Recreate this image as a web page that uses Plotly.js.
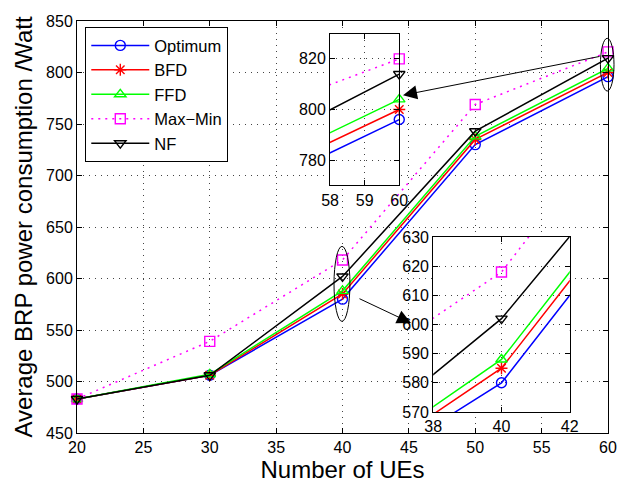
<!DOCTYPE html>
<html>
<head>
<meta charset="utf-8">
<script src="https://cdn.plot.ly/plotly-3.0.1.min.js"></script>
<style>html,body{margin:0;padding:0;background:#fff;}#chart{width:624px;height:483px;}</style>
</head>
<body>
<div id="chart"></div>
<script>
// ---- data ----
const numUEs = [20, 30, 40, 50, 60];
const optimum = [483, 506, 580, 730, 796];
const bfd     = [483, 506, 585, 735, 800];
const ffd     = [483, 507, 588, 738, 804];
const maxMin  = [483, 539, 618, 769, 820];
const nf      = [483, 506, 602, 743, 814];

const seriesNames = ['Optimum', 'BFD', 'FFD', 'Max\u2212Min', 'NF'];
const seriesData = [optimum, bfd, ffd, maxMin, nf];
const seriesColors = ['#0000ff', '#ff0000', '#00ff00', '#ff00ff', '#000000'];
const seriesSymbols = ['circle-open', 'asterisk-open', 'triangle-up-open', 'square-open', 'triangle-down-open'];
const seriesDash = ['solid', 'solid', 'solid', '2px,5px', 'solid'];

const mainXTicks = [20, 25, 30, 35, 40, 45, 50, 55, 60];
const mainYTicks = [450, 500, 550, 600, 650, 700, 750, 800, 850];
const inset1XRange = [58, 60], inset1YRange = [770, 830];
const inset2XRange = [38, 42], inset2YRange = [570, 630];
const inset1XTicks = [58, 59, 60];
const inset1YTicks = [780, 800, 820];
const inset2XTicks = [38, 40, 42];
const inset2YTicks = [570, 580, 590, 600, 610, 620, 630];

function markerStyle(i) {
  return {symbol: seriesSymbols[i], size: 10, color: seriesColors[i],
          line: {color: seriesColors[i], width: 1.4}};
}
function lineStyle(i) {
  return {color: seriesColors[i], width: 1.5, dash: seriesDash[i]};
}

const traces = [];
// main axes
seriesNames.forEach(function (name, i) {
  traces.push({x: numUEs, y: seriesData[i], name: name, xaxis: 'x', yaxis: 'y',
    type: 'scatter', mode: 'lines+markers', cliponaxis: false,
    line: lineStyle(i), marker: markerStyle(i)});
});
// insets: clipped lines + unclipped markers for points inside the window
[['x2', 'y2', inset1XRange, inset1YRange], ['x3', 'y3', inset2XRange, inset2YRange]].forEach(function (ax) {
  seriesNames.forEach(function (name, i) {
    traces.push({x: numUEs, y: seriesData[i], name: name, xaxis: ax[0], yaxis: ax[1],
      type: 'scatter', mode: 'lines', showlegend: false, cliponaxis: true, line: lineStyle(i)});
    const mx = [], my = [];
    numUEs.forEach(function (xv, j) {
      const yv = seriesData[i][j];
      if (xv >= ax[2][0] && xv <= ax[2][1] && yv >= ax[3][0] && yv <= ax[3][1]) { mx.push(xv); my.push(yv); }
    });
    traces.push({x: mx, y: my, name: name, xaxis: ax[0], yaxis: ax[1],
      type: 'scatter', mode: 'markers', showlegend: false, cliponaxis: false, marker: markerStyle(i)});
  });
});

const fontFam = 'Liberation Sans, Arial, Helvetica, sans-serif';
function axisBase(extra) {
  return Object.assign({
    showline: true, linecolor: '#000', linewidth: 1, mirror: 'ticks',
    ticks: 'inside', ticklen: 5, tickcolor: '#000', tickwidth: 1,
    showgrid: true, gridcolor: '#444', griddash: '1px,5px', gridwidth: 1,
    zeroline: false, tickfont: {family: fontFam, size: 16, color: '#000'},
    fixedrange: true
  }, extra);
}

const layout = {
  width: 624, height: 483,
  margin: {l: 77, r: 16, t: 21, b: 50, pad: 0},
  paper_bgcolor: '#fff', plot_bgcolor: '#fff',
  font: {family: fontFam, color: '#000'},
  showlegend: true,
  legend: {
    x: 0.0156, y: 0.985, xanchor: 'left', yanchor: 'top',
    bgcolor: '#fff', bordercolor: '#000', borderwidth: 1,
    font: {family: fontFam, size: 16.5, color: '#000'},
    itemwidth: 58, tracegroupgap: 0
  },
  xaxis: axisBase({range: [20, 60], tickvals: mainXTicks, domain: [0, 1], anchor: 'y',
    title: {text: 'Number of UEs', font: {family: fontFam, size: 24, color: '#000'}, standoff: 4}}),
  yaxis: axisBase({range: [450, 850], tickvals: mainYTicks, domain: [0, 1], anchor: 'x',
    title: {text: 'Average BRP power consumption /Watt', font: {family: fontFam, size: 24, color: '#000'}, standoff: 6}}),
  xaxis2: axisBase({range: inset1XRange, tickvals: inset1XTicks, domain: [0.4765, 0.6069], anchor: 'y2'}),
  yaxis2: axisBase({range: inset1YRange, tickvals: inset1YTicks, domain: [0.6012, 0.9694], anchor: 'x2'}),
  xaxis3: axisBase({range: inset2XRange, tickvals: inset2XTicks, domain: [0.6708, 0.928], anchor: 'y3'}),
  yaxis3: axisBase({range: inset2YRange, tickvals: inset2YTicks, domain: [0.051, 0.4757], anchor: 'x3'}),
  shapes: [
    {type: 'circle', xref: 'paper', yref: 'paper', x0: 0.484, x1: 0.514, y0: 0.271, y1: 0.453,
     line: {color: '#000', width: 1}, layer: 'above'},
    {type: 'circle', xref: 'paper', yref: 'paper', x0: 0.9857, x1: 1.0113, y0: 0.830, y1: 0.958,
     line: {color: '#000', width: 1}, layer: 'above'}
  ],
  annotations: [
    {xref: 'paper', yref: 'paper', x: 0.629, y: 0.267, text: '', showarrow: true,
     ax: -53, ay: -25, arrowhead: 2, arrowsize: 2.8, arrowwidth: 1, arrowcolor: '#000'},
    {xref: 'paper', yref: 'paper', x: 0.614, y: 0.820, text: '', showarrow: true,
     ax: 198, ay: -39, arrowhead: 2, arrowsize: 2.8, arrowwidth: 1, arrowcolor: '#000'}
  ]
};

Plotly.newPlot('chart', traces, layout, {staticPlot: true, displayModeBar: false});
</script>
</body>
</html>
